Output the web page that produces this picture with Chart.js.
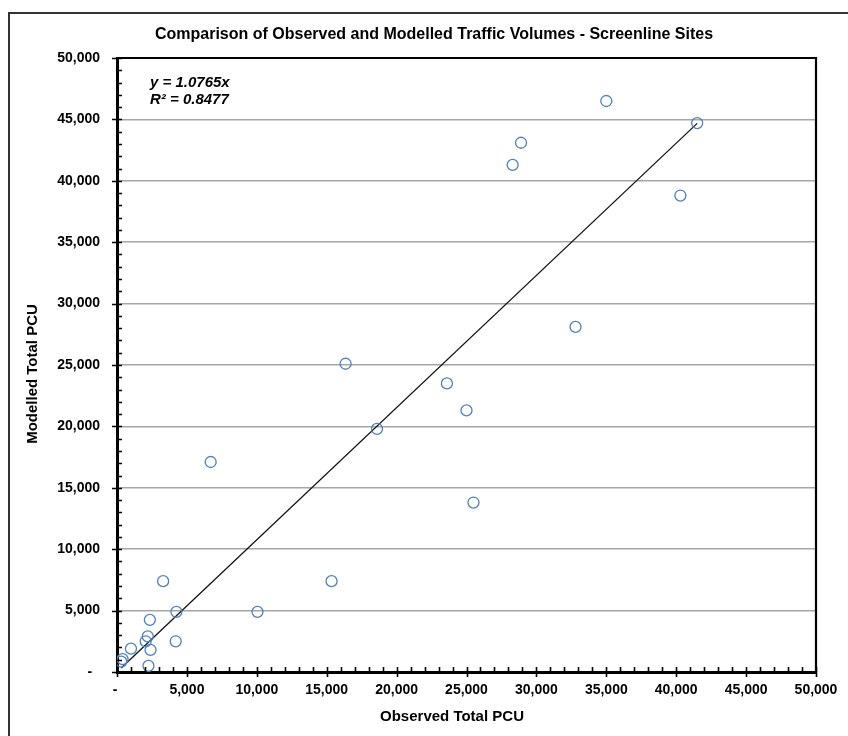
<!DOCTYPE html>
<html>
<head>
<meta charset="utf-8">
<script src="https://cdn.jsdelivr.net/npm/chart.js@4.4.1/dist/chart.umd.min.js"></script>
<style>
    html, body { margin: 0; padding: 0; background: #fff; overflow: hidden; }
    #wrap { position: relative; width: 848px; height: 736px; }
</style>
</head>
<body>
<div id="wrap"><canvas id="chartScatter" width="848" height="736"></canvas></div>
<script>
// Observed vs modelled PCU per screenline site
const observedPcu = [35000, 41500, 40300, 28900, 28300, 32800, 16350, 23600, 25000, 18600,
    25500, 6700, 15350, 3300, 4250, 10050, 2350, 2200, 2050, 4200, 1000, 2400, 2250, 400, 300];
const modelledPcu = [46500, 44700, 38800, 43100, 41300, 28100, 25100, 23500, 21300, 19800,
    13800, 17100, 7400, 7400, 4900, 4900, 4250, 2900, 2500, 2500, 1900, 1800, 500, 1050, 850];
const trendSlope = 1.0765;
const trendLabel = ["y = 1.0765x", "R\u00b2 = 0.8477"];
const axisMax = 50000;
const majorStep = 5000;
const minorStep = 1000;

const chartTitle = "Comparison of Observed and Modelled Traffic Volumes - Screenline Sites";
const xTitle = "Observed Total PCU";
const yTitle = "Modelled Total PCU";

const FONT = "'Liberation Sans', Arial, sans-serif";

function formatTick(value, isY) {
    if (value === 0) return isY ? "-  " : "- ";
    return value.toLocaleString("en-US");
}

const points = observedPcu.map((x, i) => ({ x: x, y: modelledPcu[i] }));
const minX = Math.min(...observedPcu);
const maxX = Math.max(...observedPcu);
const trendPoints = [
    { x: minX, y: minX * trendSlope },
    { x: maxX, y: maxX * trendSlope },
];

// frame, ticks and texts that Chart.js does not draw the Excel way
const excelFrame = {
    id: "excelFrame",
    afterDraw(chart) {
        const { ctx, chartArea: a, scales } = chart;
        const sx = scales.x;
        const sy = scales.y;
        ctx.save();

        // outer chart border
        ctx.strokeStyle = "#333";
        ctx.lineWidth = 2;
        ctx.strokeRect(9, 13, 900, 900);

        // plot frame top + right
        ctx.strokeStyle = "#000";
        ctx.lineWidth = 2.2;
        ctx.beginPath();
        ctx.moveTo(a.left, a.top);
        ctx.lineTo(a.right, a.top);
        ctx.lineTo(a.right, a.bottom);
        ctx.stroke();

        // tick marks
        ctx.lineWidth = 1.6;
        for (let v = 0; v <= axisMax; v += minorStep) {
            const major = v % majorStep === 0;
            const px = Math.round(sx.getPixelForValue(v)) + 0.5;
            const py = Math.round(sy.getPixelForValue(v)) + 0.5;
            ctx.beginPath();
            ctx.moveTo(px, a.bottom + (major ? 5 : 0));
            ctx.lineTo(px, a.bottom - 5);
            ctx.moveTo(a.left - (major ? 5 : 0), py);
            ctx.lineTo(a.left + 5, py);
            ctx.stroke();
        }

        // titles
        ctx.fillStyle = "#000";
        ctx.textAlign = "center";
        ctx.textBaseline = "middle";
        ctx.font = "bold 16px " + FONT;
        ctx.fillText(chartTitle, 434, 35);
        ctx.font = "bold 15px " + FONT;
        ctx.fillText(xTitle, 452, 717);
        ctx.save();
        ctx.translate(33, 374);
        ctx.rotate(-Math.PI / 2);
        ctx.fillText(yTitle, 0, 0);
        ctx.restore();

        // trendline equation
        ctx.textAlign = "left";
        ctx.font = "italic bold 15px " + FONT;
        ctx.fillText(trendLabel[0], 150, 83);
        ctx.fillText(trendLabel[1], 150, 100);

        ctx.restore();
    },
};

const configScatter = {
    type: "scatter",
    data: {
        datasets: [
            {
                label: "Sites",
                data: points,
                pointStyle: "circle",
                pointRadius: 5.5,
                pointHoverRadius: 5.5,
                borderWidth: 1.3,
                borderColor: "#4f81bd",
                backgroundColor: "rgba(0,0,0,0)",
            },
            {
                type: "line",
                label: "Trend",
                data: trendPoints,
                borderColor: "#111",
                borderWidth: 1.3,
                pointRadius: 0,
                fill: false,
            },
        ],
    },
    options: {
        responsive: false,
        animation: false,
        devicePixelRatio: 1,
        layout: { padding: { top: 58, right: 32, left: 0, bottom: 0 } },
        plugins: {
            legend: { display: false },
            title: { display: false },
            tooltip: { enabled: false },
        },
        scales: {
            x: {
                type: "linear",
                min: 0,
                max: axisMax,
                afterFit: (s) => { s.height = 64; },
                border: { display: true, color: "#000", width: 3 },
                grid: { display: false, drawTicks: false },
                ticks: {
                    stepSize: majorStep,
                    autoSkip: false,
                    maxRotation: 0,
                    padding: 10,
                    color: "#000",
                    font: { family: FONT, size: 14, weight: "bold" },
                    callback: (v) => formatTick(v, false),
                },
            },
            y: {
                type: "linear",
                min: 0,
                max: axisMax,
                afterFit: (s) => { s.width = 117; },
                border: { display: true, color: "#000", width: 3 },
                grid: { color: "#a6a6a6", lineWidth: 1.5, drawTicks: false },
                ticks: {
                    stepSize: majorStep,
                    autoSkip: false,
                    padding: 17,
                    color: "#000",
                    font: { family: FONT, size: 14, weight: "bold" },
                    callback: (v) => formatTick(v, true),
                },
            },
        },
    },
    plugins: [excelFrame],
};

new Chart(document.getElementById("chartScatter"), configScatter);
</script>
</body>
</html>
